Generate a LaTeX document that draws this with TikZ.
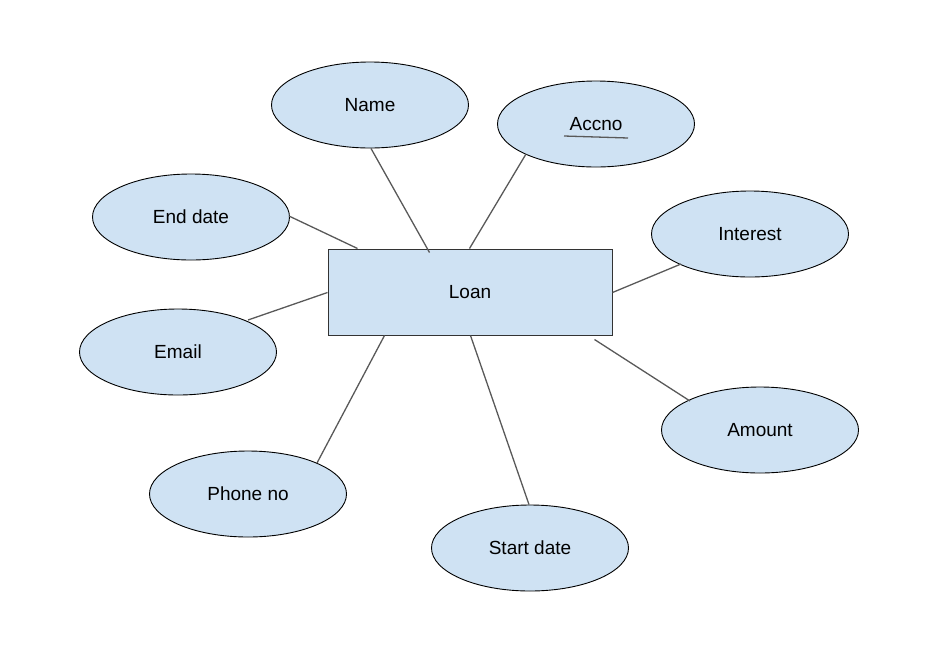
\documentclass[tikz,border=0pt]{standalone}
\usepackage{fontspec}
\setmainfont{Liberation Sans}
\usetikzlibrary{shapes.geometric,calc}
\definecolor{boxfill}{HTML}{CFE2F3}
\definecolor{linkgray}{HTML}{595959}
\tikzset{
  attr/.style={ellipse, draw=black, fill=boxfill, line width=0.9pt, minimum width=197pt, minimum height=86pt, inner sep=0pt, font=\fontsize{19}{21}\selectfont},
  entity/.style={rectangle, draw=black!80, fill=boxfill, line width=1pt, minimum width=284pt, minimum height=86pt, inner sep=0pt, font=\fontsize{19}{21}\selectfont},
  link/.style={draw=linkgray, line width=1.3pt},
}
\begin{document}
\begin{tikzpicture}[x=1pt,y=-1pt]
\useasboundingbox (0,0) rectangle (939,659);
\node[entity] (loan) at (470,292) {Loan};
\node[attr] (name) at (370,105) {Name};
\node[attr] (accno) at (596,124) {Accno};
\node[attr] (end) at (191,217) {End date};
\node[attr] (interest) at (750,234) {Interest};
\node[attr] (email) at (178,352) {Email};
\node[attr] (amount) at (760,430) {Amount};
\node[attr] (phone) at (248,494) {Phone no};
\node[attr] (start) at (530,548) {Start date};
% underline of key attribute
\draw[draw=linkgray, line width=1.3pt] ($(accno.center)+(-32,12)$) coordinate (ul1) -- ($(accno.center)+(32,14)$) coordinate (ul2);
% connector start points on the attribute ellipses
\coordinate (nameStart) at ($(name.south)+(1,0)$);
\coordinate (accnoStart) at ($(accno.center)+(-70,30)$);
\coordinate (endStart) at ($(end.east)+(-1,-1)$);
\coordinate (emailStart) at ($(email.center)+(70,-32)$);
\coordinate (interestStart) at ($(interest.center)+(-69,30)$);
\coordinate (amountStart) at ($(amount.center)+(-70,-29)$);
\coordinate (phoneStart) at ($(phone.center)+(69,-31)$);
\coordinate (startStart) at ($(start.north)+(-1,0)$);
% connector end points on the entity
\coordinate (nameEnd) at ($(loan.north west)+(102,4)$);
\coordinate (accnoEnd) at ($(loan.north west)+(142,0)$);
\coordinate (endEnd) at ($(loan.north west)+(30,0)$);
\coordinate (emailEnd) at ($(loan.north west)+(0,44)$);
\coordinate (interestEnd) at ($(loan.north east)+(0,44)$);
\coordinate (amountEnd) at ($(loan.south east)+(-18,4)$);
\coordinate (phoneEnd) at ($(loan.south west)+(57,0)$);
\coordinate (startEnd) at ($(loan.south west)+(143,0)$);
\draw[link] (nameStart) -- (nameEnd);
\draw[link] (accnoStart) -- (accnoEnd);
\draw[link] (endStart) -- (endEnd);
\draw[link] (emailStart) -- (emailEnd);
\draw[link] (interestStart) -- (interestEnd);
\draw[link] (amountStart) -- (amountEnd);
\draw[link] (phoneStart) -- (phoneEnd);
\draw[link] (startStart) -- (startEnd);
\end{tikzpicture}
\end{document}
